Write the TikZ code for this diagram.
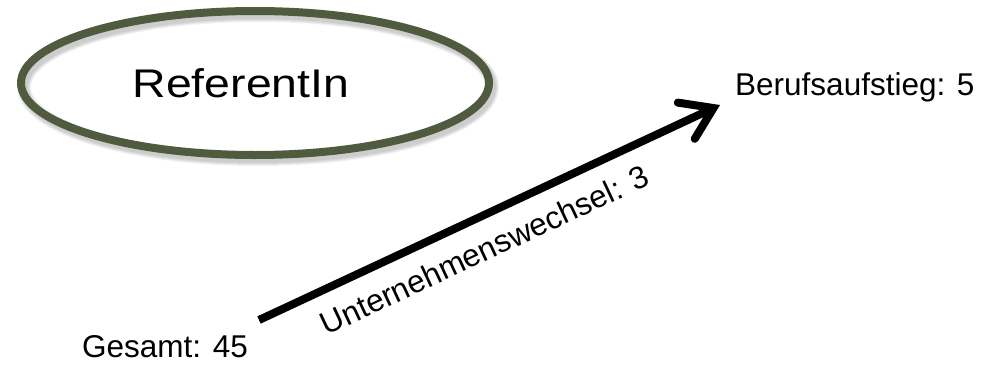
\documentclass[tikz,border=0pt]{standalone}
\usepackage{fontspec}
\setmainfont{Liberation Sans}
\usetikzlibrary{arrows.meta,shapes.geometric}
\definecolor{ovalgreen}{RGB}{80,90,62}
\begin{document}
\begin{tikzpicture}[x=1pt,y=-1pt,
  lbl/.style={font=\fontsize{31.5}{36}\selectfont, inner sep=0pt},
  oval/.style={ellipse, draw=ovalgreen, line width=8pt, minimum width=468pt, minimum height=144pt, inner sep=0pt},
  shadowoval/.style={ellipse, draw=black, line width=#1, minimum width=468pt, minimum height=144pt, inner sep=0pt, opacity=0.05},
  bigarrow/.style={line width=8pt, -{Straight Barb[length=30pt,width=40pt,line cap=round,line join=miter]}}]
\fill[white] (0,0) rectangle (990,364);
\useasboundingbox (0,0) rectangle (990,364);
% soft shadow
\foreach \w in {14,12,10,8} {\node[shadowoval=\w pt] at (258,87) {};}
\node[oval] (ref) at (255,83) {};
\node[lbl, anchor=base, font=\fontsize{40}{46}\selectfont] (reftext) at (241,97) {\scalebox{1.16}[1]{ReferentIn}};
\node[lbl, anchor=base] (gesamt) at (165,357) {Gesamt: 45};
\node[lbl, anchor=base west] (beruf) at (735,95) {Berufsaufstieg: 5};
\coordinate (s) at (259,320);
\coordinate (e) at (720,105);
\draw[bigarrow] (s) -- (e) node[lbl, pos=0.46, sloped, below=16pt] (wlabel) {Unternehmenswechsel: 3};
\end{tikzpicture}
\end{document}
